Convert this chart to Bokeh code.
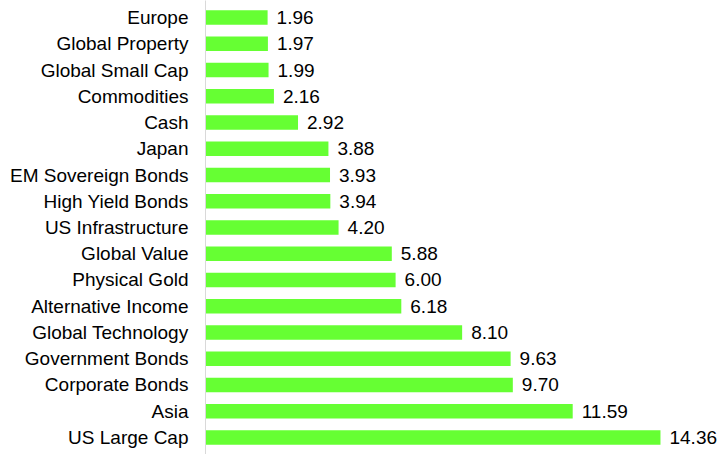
from bokeh.plotting import figure
from bokeh.models import ColumnDataSource, FactorRange, Range1d
from bokeh.embed import file_html
from bokeh.resources import INLINE
from bokeh.core.properties import value

categories = ["Europe", "Global Property", "Global Small Cap", "Commodities", "Cash",
              "Japan", "EM Sovereign Bonds", "High Yield Bonds", "US Infrastructure",
              "Global Value", "Physical Gold", "Alternative Income", "Global Technology",
              "Government Bonds", "Corporate Bonds", "Asia", "US Large Cap"]
values = [1.96, 1.97, 1.99, 2.16, 2.92, 3.88, 3.93, 3.94, 4.20, 5.88, 6.00, 6.18,
          8.10, 9.63, 9.70, 11.59, 14.36]
labels = ["%.2f" % v for v in values]

src = ColumnDataSource(dict(cat=categories, val=values, lab=labels))

yr = FactorRange(factors=list(reversed(categories)), range_padding=0.15,
                 range_padding_units="absolute")
p = figure(width=717, height=454, y_range=yr, x_range=Range1d(0, 16.16),
           output_backend="svg", toolbar_location=None,
           min_border_left=205, min_border_right=0, min_border_top=0, min_border_bottom=0)

p.hbar(y="cat", right="val", left=0, height=0.55, source=src,
       fill_color="#66FF33", line_color=None)
p.text(x="val", y="cat", text="lab", source=src, x_offset=9,
       text_font=value("Liberation Sans"), text_font_size="19px",
       text_baseline="middle", text_align="left", text_color="#000000")

p.xaxis.visible = False
p.xgrid.visible = False
p.ygrid.visible = False
p.outline_line_color = None
p.yaxis.axis_line_color = "#D9D9D9"
p.yaxis.major_tick_line_color = None
p.yaxis.minor_tick_line_color = None
p.yaxis.major_label_standoff = 11
p.yaxis.major_label_text_font = "Liberation Sans"
p.yaxis.major_label_text_font_size = "19px"
p.yaxis.major_label_text_color = "#000000"
p.background_fill_color = "white"
p.border_fill_color = "white"

open("out.html", "w").write(file_html(p, INLINE))
